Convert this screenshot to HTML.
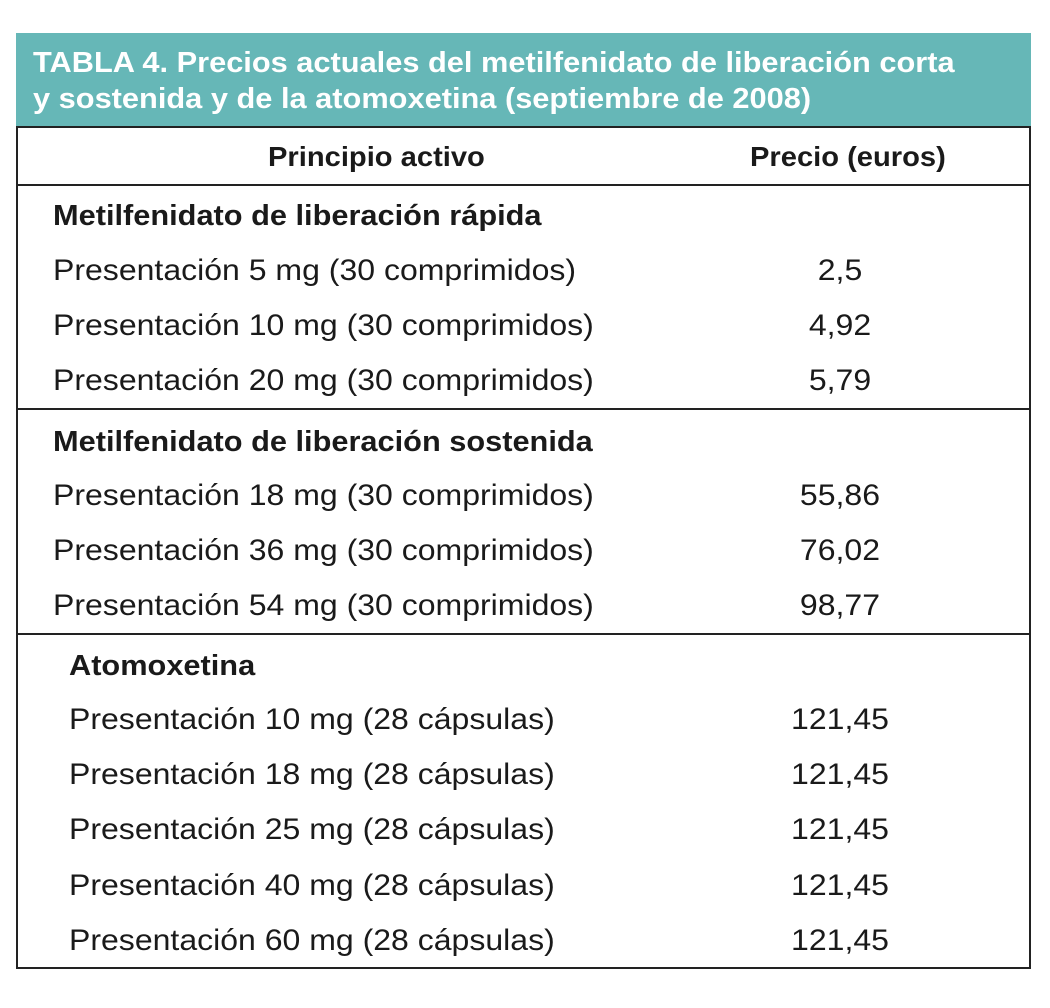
<!DOCTYPE html>
<html><head><meta charset="utf-8">
<style>
body{margin:0;background:#fff;width:1050px;height:1008px;position:relative;overflow:hidden;font-family:"Liberation Sans",sans-serif;color:#1a1a1a}
.abs{position:absolute;white-space:nowrap}
.hl{position:absolute;left:16px;width:1015px;height:2px;background:#222}
.t{font-size:30px;line-height:34px;transform:scaleX(1.067);transform-origin:left center}
.b{font-weight:bold;font-size:29px;line-height:32px;transform:scaleX(1.06);transform-origin:left center}
.h{font-weight:bold;font-size:28px;line-height:32px;transform:scaleX(1.04);transform-origin:left center}
.v{font-size:30px;line-height:34px;width:200px;text-align:center;left:740px;transform:scaleX(1.067);transform-origin:center center}
</style></head><body>
<div class="abs" style="left:16px;top:33px;width:1011px;height:932px;border:2px solid #222"></div>
<div class="abs" style="left:16px;top:33px;width:1015px;height:94px;background:#66b7b7"></div>
<div class="abs" style="left:33px;top:45px;color:#fff;font-weight:bold;font-size:29px;line-height:36px;transform:scaleX(1.061);transform-origin:left center">TABLA 4. Precios actuales del metilfenidato de liberación corta<br>y sostenida y de la atomoxetina (septiembre de 2008)</div>
<div class="hl" style="top:126px"></div>
<div class="hl" style="top:184px"></div>
<div class="hl" style="top:408px"></div>
<div class="hl" style="top:633px"></div>
<div class="abs h" style="left:268px;top:141px">Principio activo</div>
<div class="abs h" style="left:750px;top:141px">Precio (euros)</div>

<div class="abs b" style="left:53px;top:200px">Metilfenidato de liberación rápida</div>
<div class="abs t" style="left:53px;top:254px">Presentación 5 mg (30 comprimidos)</div>
<div class="abs v" style="top:254px">2,5</div>
<div class="abs t" style="left:53px;top:309px">Presentación 10 mg (30 comprimidos)</div>
<div class="abs v" style="top:309px">4,92</div>
<div class="abs t" style="left:53px;top:364px">Presentación 20 mg (30 comprimidos)</div>
<div class="abs v" style="top:364px">5,79</div>

<div class="abs b" style="left:53px;top:426px">Metilfenidato de liberación sostenida</div>
<div class="abs t" style="left:53px;top:479px">Presentación 18 mg (30 comprimidos)</div>
<div class="abs v" style="top:479px">55,86</div>
<div class="abs t" style="left:53px;top:534px">Presentación 36 mg (30 comprimidos)</div>
<div class="abs v" style="top:534px">76,02</div>
<div class="abs t" style="left:53px;top:589px">Presentación 54 mg (30 comprimidos)</div>
<div class="abs v" style="top:589px">98,77</div>

<div class="abs b" style="left:69px;top:650px">Atomoxetina</div>
<div class="abs t" style="left:69px;top:703px">Presentación 10 mg (28 cápsulas)</div>
<div class="abs v" style="top:703px">121,45</div>
<div class="abs t" style="left:69px;top:758px">Presentación 18 mg (28 cápsulas)</div>
<div class="abs v" style="top:758px">121,45</div>
<div class="abs t" style="left:69px;top:813px">Presentación 25 mg (28 cápsulas)</div>
<div class="abs v" style="top:813px">121,45</div>
<div class="abs t" style="left:69px;top:869px">Presentación 40 mg (28 cápsulas)</div>
<div class="abs v" style="top:869px">121,45</div>
<div class="abs t" style="left:69px;top:924px">Presentación 60 mg (28 cápsulas)</div>
<div class="abs v" style="top:924px">121,45</div>
</body></html>
